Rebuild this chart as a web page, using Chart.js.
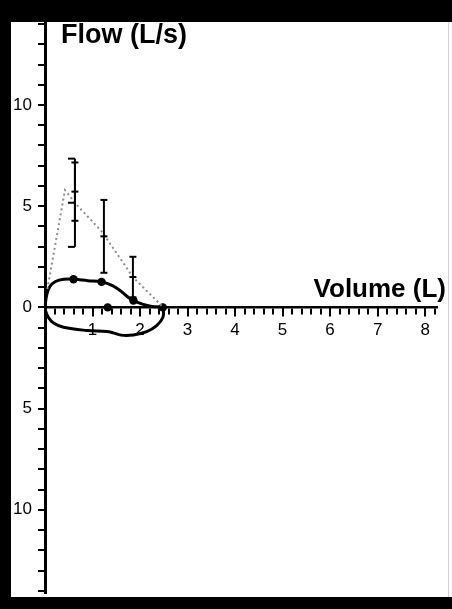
<!DOCTYPE html>
<html>
<head>
<meta charset="utf-8">
<script src="https://cdn.jsdelivr.net/npm/chart.js@4"></script>
<style>
  html, body { margin: 0; padding: 0; background: #fff; }
  #wrap { position: relative; width: 452px; height: 609px; overflow: hidden; background: #fff; }
  #wrap canvas { position: absolute; left: 0; top: 0; }
  .bar { position: absolute; background: #000; z-index: 2; }
</style>
</head>
<body>
<div id="wrap">
  <canvas id="c" width="452" height="609"></canvas>
  <div class="bar" style="left:0;top:0;width:452px;height:22px;"></div>
  <div class="bar" style="left:0;top:0;width:11px;height:609px;"></div>
  <div class="bar" style="left:0;top:597px;width:452px;height:12px;"></div>
  <div style="position:absolute;left:448px;top:22px;width:1px;height:575px;background:#d0d0d0;z-index:2;"></div>
</div>
<script>
// ---- data ----
// measured flow-volume loop (solid line)
const loopVolume = [0, 0.035, 0.1, 0.22, 0.4, 0.6, 0.9, 1.19, 1.42, 1.6, 1.75, 1.86, 2.05, 2.25, 2.48,
                    2.49, 2.48, 2.35, 2.14, 1.86, 1.6, 1.44, 1.3, 0.88, 0.39, 0.18, 0.07, 0.01, 0];
const loopFlow   = [0, 0.6, 1.02, 1.28, 1.39, 1.39, 1.32, 1.26, 1.08, 0.8, 0.5, 0.33, 0.16, 0.05, 0,
                    -0.1, -0.5, -0.9, -1.2, -1.36, -1.37, -1.26, -1.19, -1.14, -0.98, -0.77, -0.49, -0.15, 0];
// marker points
const dotVolume = [0.6, 1.19, 1.32, 1.86, 2.48];
const dotFlow   = [1.39, 1.26, 0, 0.34, 0];
// predicted curve (dotted grey line)
const predVolume = [0.05, 0.42, 0.67, 1.19, 1.86, 2.47];
const predFlow   = [0.9, 5.8, 5.06, 3.76, 1.47, 0.05];
// error bars (mean +/- sd)
const errVolume = [0.63, 0.63, 1.24, 1.85];
const errMean   = [5.17, 5.72, 3.51, 1.50];
const errSD     = [2.18, 1.44, 1.80, 1.00];
// axis ticks
const xTickValues = [1, 2, 3, 4, 5, 6, 7, 8];
const xTickLabels = ['1', '2', '3', '4', '5', '6', '7', '8'];
const yTickValues = [10, 5, 0, -5, -10];
const yTickLabels = ['10', '5', '0', '5', '10'];
const xTitle = 'Volume (L)';
const yTitle = 'Flow (L/s)';

function pts(xs, ys) { return xs.map((v, i) => ({ x: v, y: ys[i] })); }
function labelFor(values, labels, v) {
  const i = values.findIndex(t => Math.abs(t - v) < 1e-6);
  return i >= 0 ? labels[i] : '';
}

const errorBarPlugin = {
  id: 'errorBars',
  afterDatasetsDraw(chart, args, opts) {
    const { ctx, scales: { x, y } } = chart;
    ctx.save();
    ctx.strokeStyle = '#000';
    ctx.lineWidth = 2;
    errVolume.forEach((v, i) => {
      const px = x.getPixelForValue(v);
      const top = y.getPixelForValue(errMean[i] + errSD[i]);
      const mid = y.getPixelForValue(errMean[i]);
      const bot = y.getPixelForValue(errMean[i] - errSD[i]);
      ctx.beginPath(); ctx.moveTo(px, top); ctx.lineTo(px, bot); ctx.stroke();
      const w = 7, a = opts.capAlign[i];
      const x0 = a === 'left' ? px - w : (a === 'right' ? px : px - w / 2);
      [top, mid, bot].forEach(yy => {
        ctx.beginPath(); ctx.moveTo(x0, yy); ctx.lineTo(x0 + w, yy); ctx.stroke();
      });
    });
    ctx.restore();
  }
};

const axisExtrasPlugin = {
  id: 'axisExtras',
  afterDraw(chart) {
    const { ctx, chartArea, scales: { x, y } } = chart;
    ctx.save();
    // longer major ticks on the volume axis
    const y0 = y.getPixelForValue(0);
    ctx.strokeStyle = '#000';
    ctx.lineWidth = 2;
    xTickValues.forEach(v => {
      const px = Math.round(x.getPixelForValue(v)) + 0;
      ctx.beginPath(); ctx.moveTo(px, y0); ctx.lineTo(px, y0 + 9); ctx.stroke();
    });
    // axis titles
    ctx.fillStyle = '#000';
    ctx.textBaseline = 'alphabetic';
    ctx.font = 'bold 27px "Liberation Sans", Arial, sans-serif';
    ctx.textAlign = 'left';
    ctx.fillText(yTitle, x.getPixelForValue(0) + 16, chartArea.top + 21);
    ctx.font = 'bold 26px "Liberation Sans", Arial, sans-serif';
    ctx.textAlign = 'right';
    ctx.fillText(xTitle, chartArea.right + 9, y0 - 10);
    ctx.restore();
  }
};

new Chart(document.getElementById('c'), {
  type: 'scatter',
  data: {
    datasets: [
      {
        data: pts(predVolume, predFlow), showLine: true, borderColor: '#8c8c8c',
        borderWidth: 2, borderDash: [2, 3], pointRadius: 0, tension: 0
      },
      {
        data: pts(loopVolume, loopFlow), showLine: true, borderColor: '#000',
        borderWidth: 3, pointRadius: 0, tension: 0.4
      },
      {
        data: pts(dotVolume, dotFlow), showLine: false, backgroundColor: '#000',
        borderColor: '#000', pointRadius: 4.2, pointBorderWidth: 0
      }
    ]
  },
  options: {
    responsive: false,
    animation: false,
    layout: { padding: { left: 11, top: 22, right: 15, bottom: 12 } },
    plugins: {
      legend: { display: false },
      tooltip: { enabled: false },
      errorBars: { capAlign: ['left', 'center', 'center', 'center'] }
    },
    scales: {
      x: {
        type: 'linear', min: 0, max: 8.25, position: { y: 0 },
        afterFit(s) { s.height = 0; },
        border: { display: true, color: '#000', width: 2.5 },
        grid: { drawOnChartArea: false, drawTicks: true, tickLength: 6, color: '#000', lineWidth: 2 },
        ticks: {
          stepSize: 0.2, autoSkip: false, maxRotation: 0, includeBounds: false, padding: 7,
          color: '#000', font: { family: '"Liberation Sans", Arial, sans-serif', size: 17 },
          callback: v => labelFor(xTickValues, xTickLabels, v)
        }
      },
      y: {
        type: 'linear', min: -14.1, max: 14.1, position: 'left',
        afterFit(s) { s.width = 34; },
        border: { display: true, color: '#000', width: 3 },
        grid: { drawOnChartArea: false, drawTicks: true, tickLength: 7, color: '#000', lineWidth: 2 },
        ticks: {
          stepSize: 1, autoSkip: false, includeBounds: false, padding: 6,
          color: '#000', font: { family: '"Liberation Sans", Arial, sans-serif', size: 17 },
          callback: v => labelFor(yTickValues, yTickLabels, v)
        }
      }
    }
  },
  plugins: [errorBarPlugin, axisExtrasPlugin]
});
</script>
</body>
</html>
